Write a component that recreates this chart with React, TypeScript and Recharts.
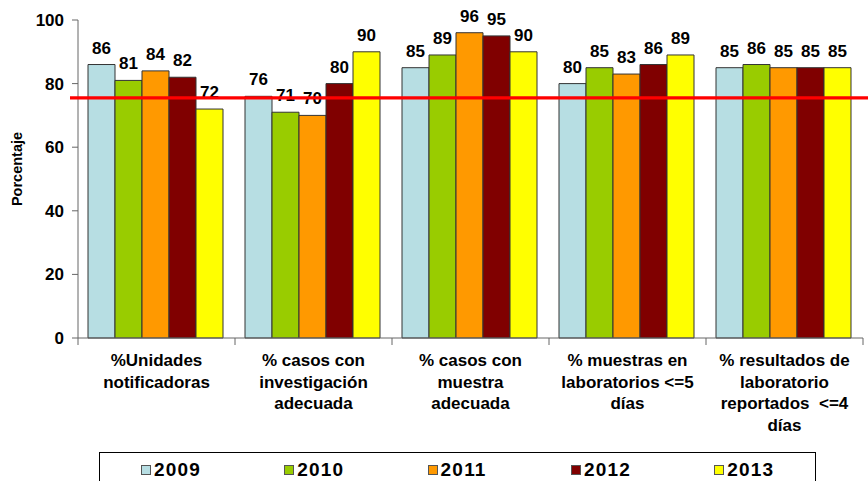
import React from 'react';
import { BarChart, Bar, XAxis, YAxis, ReferenceLine, LabelList } from 'recharts';

const categories = [
  '%Unidades\nnotificadoras',
  '% casos con\ninvestigación\nadecuada',
  '% casos con\nmuestra\nadecuada',
  '% muestras en\nlaboratorios <=5\ndías',
  '% resultados de\nlaboratorio\nreportados \u00a0<=4\ndías',
];

const years = ['2009', '2010', '2011', '2012', '2013'];
const colors = ['#B7DEE3', '#99CC00', '#FF9900', '#800000', '#FFFF00'];

const v2009 = [86, 76, 85, 80, 85];
const v2010 = [81, 71, 89, 85, 86];
const v2011 = [84, 70, 96, 83, 85];
const v2012 = [82, 80, 95, 86, 85];
const v2013 = [72, 90, 90, 89, 85];

const yTicks = [0, 20, 40, 60, 80, 100];
const target = 75.5;

const seriesValues = [v2009, v2010, v2011, v2012, v2013];
const data = categories.map((c, i) => {
  const row: Record<string, string | number> = { name: c };
  years.forEach((y, k) => {
    row[y] = seriesValues[k][i];
  });
  return row;
});

const FONT = '"Liberation Sans", Arial, sans-serif';
const W = 868;
const H = 481;
const LEFT = 78;
const RIGHT = 5;
const band = (W - LEFT - RIGHT) / categories.length;

const XTick = (props: any) => {
  const { x, y, payload, index } = props;
  const lines = String(payload.value).split('\n');
  return (
    <g>
      <line x1={x - band / 2} x2={x - band / 2} y1={y} y2={y + 7} stroke="#666" />
      {index === categories.length - 1 && (
        <line x1={x + band / 2} x2={x + band / 2} y1={y} y2={y + 7} stroke="#666" />
      )}
      <text x={x} y={y + 28} textAnchor="middle" fontFamily={FONT} fontWeight="bold" fontSize={17} fill="#000">
        {lines.map((l, i) => (
          <tspan key={i} x={x} dy={i === 0 ? 0 : 21.5}>
            {l}
          </tspan>
        ))}
      </text>
    </g>
  );
};

const App: React.FC = () => {
  return (
    <div style={{ position: 'absolute', left: 0, top: 0, width: W, height: H, background: '#fff', overflow: 'hidden' }}>
      <BarChart
        width={W}
        height={H}
        data={data}
        margin={{ top: 20, right: RIGHT, bottom: 0, left: 0 }}
        barCategoryGap={10}
        barGap={0}
      >
        <XAxis
          dataKey="name"
          height={143}
          interval={0}
          tickLine={false}
          tickSize={0}
          tickMargin={0}
          stroke="#666"
          tick={<XTick />}
        />
        <YAxis
          width={LEFT}
          domain={[0, 100]}
          ticks={yTicks}
          tickSize={6}
          tickMargin={8}
          stroke="#666"
          tick={{ fontFamily: FONT, fontWeight: 'bold', fontSize: 17, fill: '#000' }}
          label={{
            content: () => (
              <text
                x={22}
                y={169}
                transform="rotate(-90 22 169)"
                textAnchor="middle"
                fontFamily={FONT}
                fontWeight="bold"
                fontSize={14.5}
                fill="#000"
              >
                Porcentaje
              </text>
            ),
          }}
        />
        {years.map((y, k) => (
          <Bar key={y} dataKey={y} fill={colors[k]} stroke="#333" strokeWidth={1} isAnimationActive={false}>
            <LabelList
              dataKey={y}
              position="top"
              offset={11}
              style={{ fontFamily: FONT, fontWeight: 'bold', fontSize: 17, fill: '#000' }}
            />
          </Bar>
        ))}
        <ReferenceLine
          y={target}
          zIndex={3000}
          shape={(p: any) => (
            <line x1={p.x1 - 8} x2={W} y1={p.y1} y2={p.y2} stroke="#FF0000" strokeWidth={3.3} />
          )}
        />
      </BarChart>
      <div
        style={{
          position: 'absolute',
          left: 99,
          top: 452,
          width: 717,
          height: 40,
          border: '1px solid #000',
          boxSizing: 'border-box',
          fontFamily: FONT,
          fontWeight: 'bold',
          fontSize: 19,
        }}
      >
        {years.map((y, k) => (
          <div
            key={y}
            style={{ position: 'absolute', left: 41 + k * 143.3, top: 10, display: 'flex', alignItems: 'center', height: 14 }}
          >
            <span
              style={{
                display: 'inline-block',
                width: 10,
                height: 10,
                background: colors[k],
                border: '1px solid #555',
                boxSizing: 'border-box',
                marginRight: 3,
              }}
            />
            <span style={{ letterSpacing: 1.2, lineHeight: '14px' }}>{y}</span>
          </div>
        ))}
      </div>
    </div>
  );
};

export default App;
